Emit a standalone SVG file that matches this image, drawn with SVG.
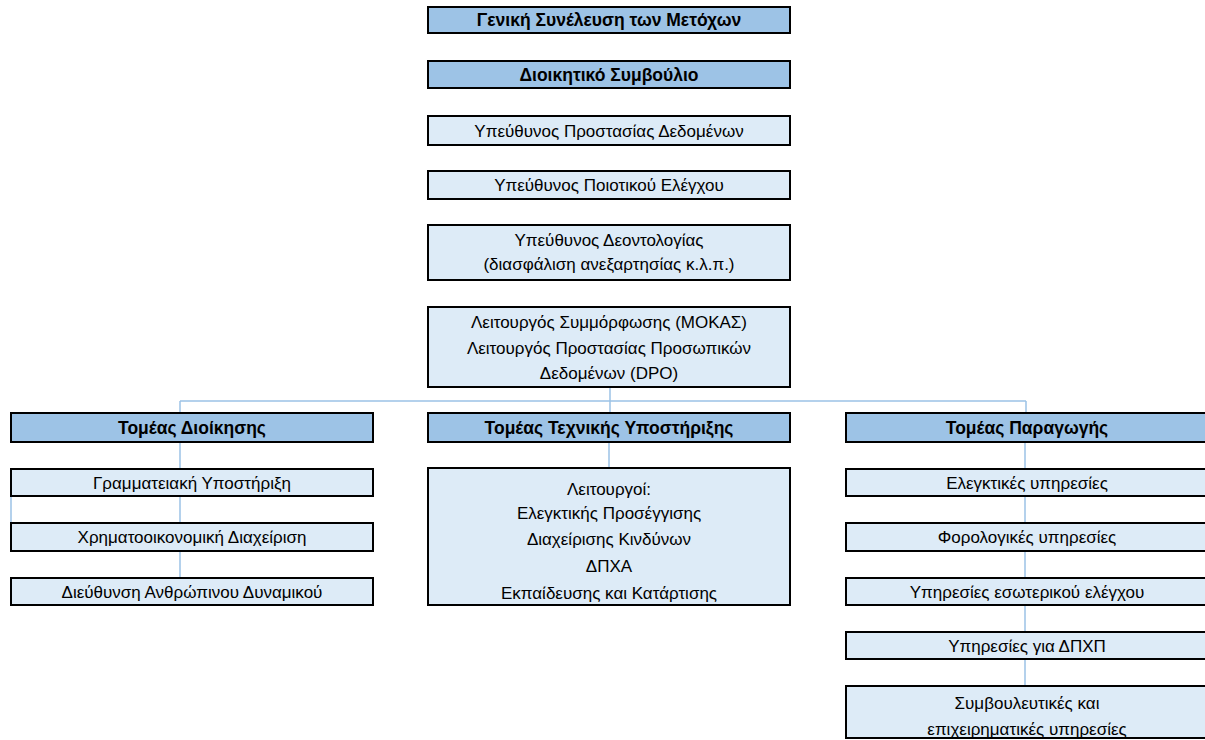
<svg xmlns="http://www.w3.org/2000/svg" width="1205" height="740" viewBox="0 0 1205 740">
<style>
.h{fill:#9DC3E6;stroke:#000;stroke-width:2}
.n{fill:#DDEBF7;stroke:#000;stroke-width:2}
text{font-family:"Liberation Sans",Arial,sans-serif;font-size:17px;fill:#000;text-anchor:middle;dominant-baseline:central}
.b{font-weight:bold;font-size:17.5px}
#connectors line{stroke:#9BC2E6;stroke-width:1.5}
</style>
<rect width="1205" height="740" fill="#fff"/>
<g id="connectors">
<line x1="610" y1="387" x2="610" y2="413"/>
<line x1="180" y1="401" x2="1026" y2="401"/>
<line x1="180" y1="401" x2="180" y2="413"/>
<line x1="1026" y1="401" x2="1026" y2="413"/>
<line x1="180" y1="442" x2="180" y2="469"/>
<line x1="180" y1="496" x2="180" y2="523"/>
<line x1="180" y1="551" x2="180" y2="578"/>
<line x1="11" y1="496" x2="11" y2="523"/>
<line x1="609" y1="442" x2="609" y2="468"/>
<line x1="1025" y1="442" x2="1025" y2="469"/>
<line x1="1025" y1="496" x2="1025" y2="523"/>
<line x1="1025" y1="551" x2="1025" y2="578"/>
<line x1="1025" y1="605" x2="1025" y2="632"/>
<line x1="1025" y1="659" x2="1025" y2="686"/>
</g>
<g id="n1"><rect class="h" x="428" y="7" width="362" height="26"/><text class="b" x="609" y="20">Γενική Συνέλευση των Μετόχων</text></g>
<g id="n2"><rect class="h" x="428" y="61" width="362" height="27"/><text class="b" x="609" y="75">Διοικητικό Συμβούλιο</text></g>
<g id="n3"><rect class="n" x="428" y="116" width="362" height="29"/><text x="609" y="131">Υπεύθυνος Προστασίας Δεδομένων</text></g>
<g id="n4"><rect class="n" x="428" y="171" width="362" height="28"/><text x="609" y="185">Υπεύθυνος Ποιοτικού Ελέγχου</text></g>
<g id="n5"><rect class="n" x="428" y="225" width="362" height="55"/><text x="609" y="240">Υπεύθυνος Δεοντολογίας</text><text x="609" y="264">(διασφάλιση ανεξαρτησίας κ.λ.π.)</text></g>
<g id="n6"><rect class="n" x="428" y="307" width="362" height="80"/><text x="609" y="322">Λειτουργός Συμμόρφωσης (ΜΟΚΑΣ)</text><text x="609" y="348">Λειτουργός Προστασίας Προσωπικών</text><text x="609" y="373">Δεδομένων (DPO)</text></g>
<g id="n7"><rect class="h" x="11" y="413" width="362" height="29"/><text class="b" x="192" y="428">Τομέας Διοίκησης</text></g>
<g id="n8"><rect class="h" x="428" y="413" width="362" height="29"/><text class="b" x="609" y="428">Τομέας Τεχνικής Υποστήριξης</text></g>
<g id="n9"><rect class="h" x="846" y="413" width="362" height="29"/><text class="b" x="1027" y="428">Τομέας Παραγωγής</text></g>
<g id="n10"><rect class="n" x="11" y="469" width="362" height="27"/><text x="192" y="483">Γραμματειακή Υποστήριξη</text></g>
<g id="n11"><rect class="n" x="11" y="523" width="362" height="28"/><text x="192" y="537">Χρηματοοικονομική Διαχείριση</text></g>
<g id="n12"><rect class="n" x="11" y="578" width="362" height="27"/><text x="192" y="592">Διεύθυνση Ανθρώπινου Δυναμικού</text></g>
<g id="n13"><rect class="n" x="428" y="468" width="362" height="137"/><text x="609" y="489">Λειτουργοί:</text><text x="609" y="513">Ελεγκτικής Προσέγγισης</text><text x="609" y="539">Διαχείρισης Κινδύνων</text><text x="609" y="566">ΔΠΧΑ</text><text x="609" y="593">Εκπαίδευσης και Κατάρτισης</text></g>
<g id="n14"><rect class="n" x="846" y="469" width="362" height="27"/><text x="1027" y="483">Ελεγκτικές υπηρεσίες</text></g>
<g id="n15"><rect class="n" x="846" y="523" width="362" height="28"/><text x="1027" y="537">Φορολογικές υπηρεσίες</text></g>
<g id="n16"><rect class="n" x="846" y="578" width="362" height="27"/><text x="1027" y="592">Υπηρεσίες εσωτερικού ελέγχου</text></g>
<g id="n17"><rect class="n" x="846" y="632" width="362" height="27"/><text x="1027" y="646">Υπηρεσίες για ΔΠΧΠ</text></g>
<g id="n18"><rect class="n" x="846" y="686" width="362" height="52"/><text x="1027" y="703">Συμβουλευτικές και</text><text x="1027" y="729">επιχειρηματικές υπηρεσίες</text></g>
</svg>
